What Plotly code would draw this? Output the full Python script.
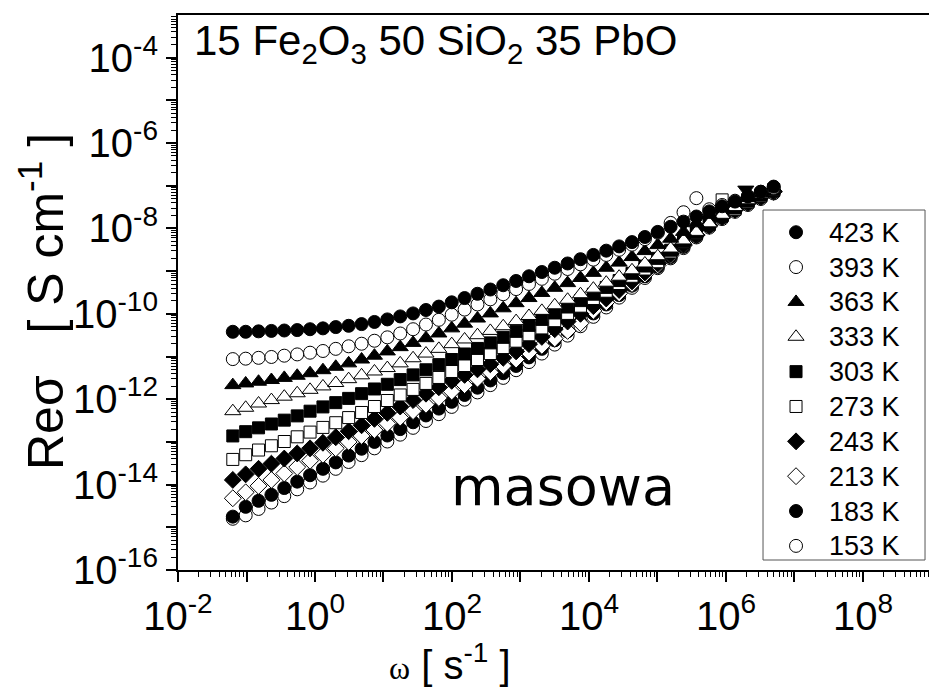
import plotly.graph_objects as go

# angular frequency omega [s^-1]
OMEGA = [0.0631, 0.0973, 0.150, 0.231, 0.356, 0.550, 0.847, 1.306, 2.01, 3.10,
         4.79, 7.38, 11.38, 17.54, 27.04, 41.7, 64.3, 99.1, 152.8, 235.5,
         363.1, 559.8, 863.0, 1330.0, 2051.0, 3162.0, 4875.0, 7516.0, 11588.0, 17865.0,
         27542.0, 42462.0, 65464.0, 100925.0, 155597.0, 239883.0, 369828.0, 570164.0, 879023.0, 1355189.0,
         2089296.0, 3221069.0, 4965923.0]

# log10 of Re(sigma) [S/cm] for each temperature
LOG_S_423 = [-10.42, -10.42, -10.41, -10.40, -10.39, -10.38, -10.36, -10.34, -10.31, -10.28,
             -10.24, -10.19, -10.13, -10.06, -9.99, -9.91, -9.83, -9.73, -9.63, -9.53,
             -9.43, -9.33, -9.23, -9.12, -9.02, -8.92, -8.82, -8.72, -8.62, -8.52,
             -8.42, -8.32, -8.20, -8.08, -7.96, -7.84, -7.72, -7.60, -7.48, -7.37,
             -7.25, -7.14, -7.02]
LOG_S_393 = [-11.06, -11.05, -11.03, -11.01, -10.98, -10.95, -10.91, -10.87, -10.82, -10.76,
             -10.70, -10.63, -10.55, -10.46, -10.36, -10.25, -10.14, -10.02, -9.90, -9.78,
             -9.66, -9.54, -9.42, -9.30, -9.18, -9.06, -8.95, -8.84, -8.73, -8.62,
             -8.50, -8.38, -8.25, -8.10, -7.87, -7.62, -7.29, -7.55, -7.45, -7.35,
             -7.24, -7.14, -7.05]
LOG_S_363 = [-11.67, -11.63, -11.59, -11.55, -11.50, -11.45, -11.39, -11.32, -11.24, -11.16,
             -11.07, -10.98, -10.88, -10.78, -10.68, -10.57, -10.46, -10.34, -10.23, -10.11,
             -9.99, -9.87, -9.75, -9.63, -9.51, -9.39, -9.28, -9.16, -9.04, -8.92,
             -8.80, -8.67, -8.53, -8.39, -8.24, -8.08, -7.88, -7.68, -7.52, -7.40,
             -7.29, -7.17, -7.06]
LOG_S_333 = [-12.28, -12.20, -12.10, -12.02, -11.94, -11.86, -11.78, -11.70, -11.62, -11.53,
             -11.44, -11.35, -11.27, -11.16, -11.04, -10.93, -10.82, -10.71, -10.60, -10.50,
             -10.40, -10.29, -10.17, -10.05, -9.93, -9.80, -9.67, -9.54, -9.41, -9.27,
             -9.13, -8.98, -8.82, -8.65, -8.47, -8.28, -8.08, -7.88, -7.68, -7.50,
             -7.34, -7.20, -7.07]
LOG_S_303 = [-12.86, -12.76, -12.67, -12.58, -12.49, -12.39, -12.28, -12.18, -12.08, -11.98,
             -11.87, -11.76, -11.65, -11.54, -11.43, -11.31, -11.19, -11.07, -10.94, -10.81,
             -10.68, -10.55, -10.41, -10.27, -10.13, -9.98, -9.84, -9.69, -9.54, -9.38,
             -9.22, -9.05, -8.88, -8.70, -8.51, -8.31, -8.10, -7.90, -7.70, -7.52,
             -7.36, -7.22, -7.09]
LOG_S_273 = [-13.41, -13.30, -13.19, -13.09, -12.99, -12.88, -12.77, -12.66, -12.55, -12.43,
             -12.31, -12.17, -12.03, -11.90, -11.77, -11.63, -11.49, -11.35, -11.21, -11.07,
             -10.93, -10.79, -10.64, -10.49, -10.33, -10.16, -9.99, -9.82, -9.64, -9.47,
             -9.29, -9.12, -8.95, -8.78, -8.55, -8.33, -8.12, -7.90, -7.33, -7.55,
             -7.38, -7.24, -7.11]
LOG_S_243 = [-13.89, -13.76, -13.63, -13.51, -13.39, -13.27, -13.15, -13.02, -12.89, -12.75,
             -12.61, -12.46, -12.32, -12.17, -12.02, -11.87, -11.72, -11.57, -11.43, -11.30,
             -11.18, -11.03, -10.88, -10.71, -10.54, -10.36, -10.18, -10.00, -9.82, -9.64,
             -9.44, -9.24, -9.03, -8.82, -8.60, -8.38, -8.15, -7.93, -7.73, -7.56,
             -7.40, -7.26, -7.13]
LOG_S_213 = [-14.32, -14.18, -14.03, -13.89, -13.74, -13.59, -13.44, -13.30, -13.15, -13.00,
             -12.86, -12.72, -12.57, -12.43, -12.28, -12.13, -11.97, -11.82, -11.67, -11.52,
             -11.37, -11.22, -11.07, -10.91, -10.75, -10.58, -10.40, -10.22, -9.93, -9.73,
             -9.52, -9.30, -9.08, -8.86, -8.63, -8.40, -8.16, -7.93, -7.73, -7.56,
             -7.41, -7.27, -7.14]
LOG_S_183 = [-14.75, -14.52, -14.38, -14.24, -14.08, -13.93, -13.78, -13.63, -13.48, -13.32,
             -13.16, -13.00, -12.85, -12.70, -12.54, -12.38, -12.22, -12.06, -11.90, -11.73,
             -11.56, -11.39, -11.22, -11.02, -10.82, -10.62, -10.41, -10.20, -9.99, -9.78,
             -9.56, -9.34, -9.12, -8.90, -8.67, -8.43, -8.18, -7.95, -7.75, -7.58,
             -7.42, -7.28, -7.15]
LOG_S_153 = [-14.80, -14.72, -14.57, -14.42, -14.27, -14.11, -13.95, -13.79, -13.63, -13.47,
             -13.31, -13.15, -12.99, -12.83, -12.67, -12.51, -12.35, -12.18, -12.01, -11.84,
             -11.67, -11.50, -11.32, -11.13, -10.93, -10.72, -10.51, -10.29, -10.07, -9.85,
             -9.62, -9.39, -9.16, -8.93, -8.70, -8.46, -8.21, -7.98, -7.78, -7.61,
             -7.45, -7.31, -7.18]
# stray point (filled down-triangle) near the top right
EXTRA_OMEGA = [1950000.0]
EXTRA_LOG_S = [-7.09]

LABELS = ["423 K", "393 K", "363 K", "333 K", "303 K", "273 K", "243 K", "213 K", "183 K", "153 K"]
SERIES = [LOG_S_423, LOG_S_393, LOG_S_363, LOG_S_333, LOG_S_303,
          LOG_S_273, LOG_S_243, LOG_S_213, LOG_S_183, LOG_S_153]
SYMBOLS = ["circle", "circle", "triangle-up", "triangle-up", "square", "square",
           "diamond", "diamond", "circle", "circle"]
FILLED = [True, False, True, False, True, False, True, False, True, False]
SIZES = [13, 13, 14, 14, 12, 12, 13, 13, 13, 13]

X_TICK_EXP = list(range(-2, 9))
Y_TICK_EXP = list(range(-16, -3))

fig = go.Figure()
# draw lowest temperature first so 423 K ends up on top
for i in reversed(range(len(LABELS))):
    fig.add_trace(go.Scatter(
        x=OMEGA, y=[10 ** v for v in SERIES[i]], mode="markers",
        name='<span style="font-size:27px">%s</span>' % LABELS[i],
        marker=dict(symbol=SYMBOLS[i], size=SIZES[i],
                    color="black" if FILLED[i] else "white",
                    line=dict(color="black", width=1)),
    ))
fig.add_trace(go.Scatter(
    x=EXTRA_OMEGA, y=[10 ** v for v in EXTRA_LOG_S], mode="markers", showlegend=False,
    marker=dict(symbol="triangle-down", size=14, color="black", line=dict(color="black", width=1)),
))

def sup_label(e):
    return "10<sup>%d</sup>" % e

def minor_vals(exps):
    out = []
    for e in exps:
        for m in range(2, 10):
            out.append(m * 10.0 ** e)
    return out

AXFONT = dict(family="Liberation Sans, Arial", size=40, color="black")

fig.update_xaxes(
    type="log", range=[-2, 8.964], automargin=False,
    showline=True, linecolor="black", linewidth=2, mirror=True,
    showgrid=False, zeroline=False,
    ticks="outside", ticklen=10, tickwidth=1.5, tickcolor="black",
    tickvals=[10.0 ** e for e in X_TICK_EXP],
    ticktext=[sup_label(e) if e % 2 == 0 else "" for e in X_TICK_EXP],
    tickfont=AXFONT,
    minor=dict(ticks="outside", ticklen=5, tickwidth=1, tickcolor="black",
               tickvals=minor_vals(range(-2, 9)), showgrid=False),
)
fig.update_yaxes(
    type="log", range=[-16, -3], automargin=False,
    showline=True, linecolor="black", linewidth=2,
    showgrid=False, zeroline=False,
    ticks="outside", ticklen=10, tickwidth=1.5, tickcolor="black",
    tickvals=[10.0 ** e for e in Y_TICK_EXP],
    ticktext=[sup_label(e) if e % 2 == 0 else "" for e in Y_TICK_EXP],
    tickfont=AXFONT,
    minor=dict(ticks="outside", ticklen=5, tickwidth=1, tickcolor="black",
               tickvals=minor_vals(range(-16, -3)), showgrid=False),
)

fig.update_layout(
    width=929, height=698,
    margin=dict(l=178, r=0, t=15, b=128),
    paper_bgcolor="white", plot_bgcolor="white",
    font=dict(family="Liberation Sans, Arial", color="black"),
    legend=dict(
        x=0.779, y=0.649, xanchor="left", yanchor="top",
        traceorder="reversed", itemwidth=56,
        font=dict(family="Liberation Sans, Arial", size=24.5, color="black"),
        borderwidth=0, bgcolor="rgba(0,0,0,0)",
    ),
    shapes=[
        # legend frame
        dict(type="rect", xref="paper", yref="paper", x0=0.779, x1=0.9947, y0=0.018, y1=0.6486,
             line=dict(color="#555555", width=1), fillcolor="white", layer="below"),
    ],
    annotations=[
        dict(xref="paper", yref="paper", x=0.018, y=1.0, xanchor="left", yanchor="top",
             text="15 Fe<sub>2</sub>O<sub>3</sub> 50 SiO<sub>2</sub> 35 PbO", showarrow=False,
             font=dict(family="Liberation Sans, Arial", size=42, color="black")),
        dict(xref="paper", yref="paper", x=0.513, y=0.150, xanchor="center", yanchor="middle",
             text="masowa", showarrow=False,
             font=dict(family="DejaVu Sans", size=54, color="black")),
        dict(xref="paper", yref="paper", x=0.362, y=-0.166, xanchor="center", yanchor="middle",
             text="<span style=\"font-family:Liberation Serif;font-size:32px\">ω</span> [ s<sup>-1</sup> ]",
             showarrow=False,
             font=dict(family="Liberation Sans, Arial", size=40, color="black")),
        dict(xref="paper", yref="paper", x=-0.181, y=0.483, xanchor="center", yanchor="middle",
             textangle=-90,
             text="Reσ&nbsp;&nbsp;&nbsp;[ S cm<sup>-1</sup> ]", showarrow=False,
             font=dict(family="Liberation Sans, Arial", size=50, color="black")),
    ],
)

fig.write_html("out.html", config={"displayModeBar": False},
               post_script="document.body.style.margin='0px';")
